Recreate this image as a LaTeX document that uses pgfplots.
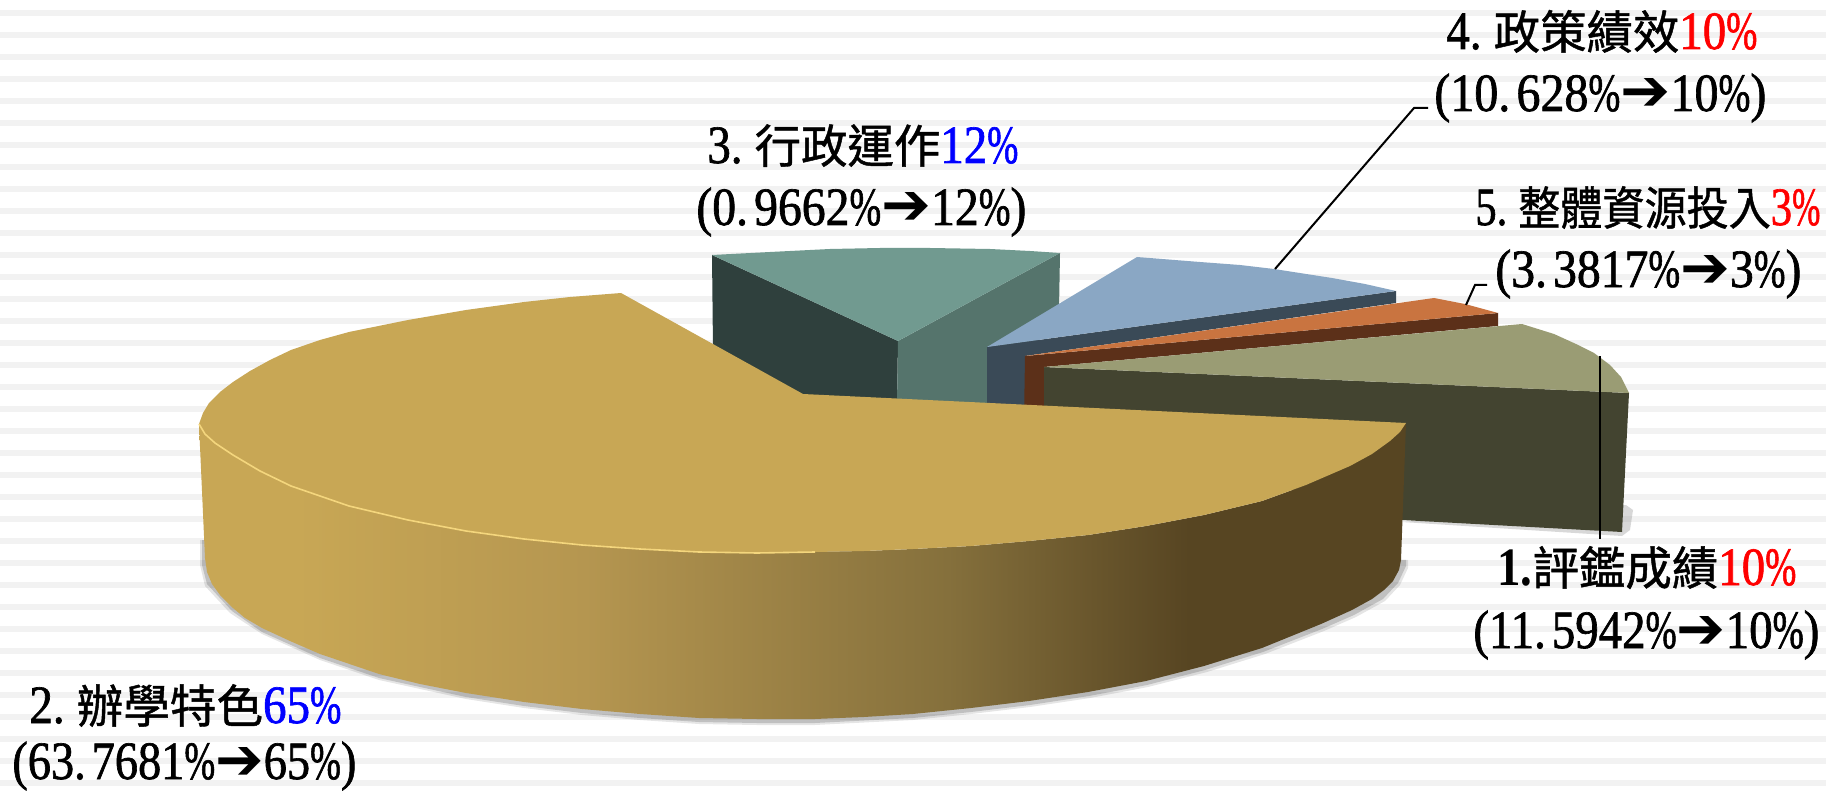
\documentclass[border=0pt]{standalone}
\usepackage{fontspec}
\usepackage{graphicx}
\usepackage{pgfplots}
\pgfplotsset{compat=1.18}
\newfontfamily\lat[FakeStretch=0.86,FakeBold=1.2]{Liberation Serif}
\newfontfamily\latb[FakeStretch=0.86]{Liberation Serif Bold}
\newfontfamily\cjk[FakeBold=1.0]{Noto Sans CJK TC}
\newfontfamily\sym{DejaVu Sans}
\newcommand{\C}[1]{{\fontsize{23}{26}\cjk #1}}
\newcommand{\R}[1]{\textcolor{red}{#1}}
\newcommand{\B}[1]{\textcolor{blue}{#1}}
\newcommand{\pc}{\scalebox{0.8}[1]{\%}}
\newcommand{\dt}{.\hspace{3pt}}
\newcommand{\ar}{{\fontsize{29}{30}\sym ➔}}
\newcommand{\txt}[4]{\node[anchor=base west,inner sep=0pt] at (axis cs:#1,#2) {\resizebox{#3}{\height}{\fontsize{27}{30}\lat #4}};}
\definecolor{gold}{HTML}{C8A755}
\definecolor{goldb}{HTML}{B59650}
\definecolor{goldc}{HTML}{85703C}
\definecolor{goldd}{HTML}{574522}
\definecolor{stripe}{HTML}{F2F2F2}
\pgfdeclarehorizontalshading{goldside}{100bp}{color(0bp)=(gold); color(29bp)=(gold); color(41bp)=(goldb); color(56bp)=(goldc); color(66bp)=(goldd); color(100bp)=(goldd)}
\begin{document}
\begin{tikzpicture}
\begin{axis}[scale only axis,width=913pt,height=395.5pt,xmin=0,xmax=1826,ymin=0,ymax=791,y dir=reverse,hide axis,unbounded coords=jump]
% page
\addplot[fill=white,draw=none] coordinates {(0,0)(1826,0)(1826,791)(0,791)} --cycle;
% background stripes
\addplot[draw=stripe,line width=3pt] coordinates {(0,13)(1826,13)(nan,nan)(0,35)(1826,35)(nan,nan)(0,57)(1826,57)(nan,nan)(0,79)(1826,79)(nan,nan)(0,101)(1826,101)(nan,nan)(0,123)(1826,123)(nan,nan)(0,145)(1826,145)(nan,nan)(0,167)(1826,167)(nan,nan)(0,189)(1826,189)(nan,nan)(0,211)(1826,211)(nan,nan)(0,233)(1826,233)(nan,nan)(0,255)(1826,255)(nan,nan)(0,277)(1826,277)(nan,nan)(0,299)(1826,299)(nan,nan)(0,321)(1826,321)(nan,nan)(0,343)(1826,343)(nan,nan)(0,365)(1826,365)(nan,nan)(0,387)(1826,387)(nan,nan)(0,409)(1826,409)(nan,nan)(0,431)(1826,431)(nan,nan)(0,453)(1826,453)(nan,nan)(0,475)(1826,475)(nan,nan)(0,497)(1826,497)(nan,nan)(0,519)(1826,519)(nan,nan)(0,541)(1826,541)(nan,nan)(0,563)(1826,563)(nan,nan)(0,585)(1826,585)(nan,nan)(0,607)(1826,607)(nan,nan)(0,629)(1826,629)(nan,nan)(0,651)(1826,651)(nan,nan)(0,673)(1826,673)(nan,nan)(0,695)(1826,695)(nan,nan)(0,717)(1826,717)(nan,nan)(0,739)(1826,739)(nan,nan)(0,761)(1826,761)(nan,nan)(0,783)(1826,783)};

% 3 teal slice
\addplot[fill={rgb,255:red,47;green,64;blue,61},draw=none] coordinates {(712,255)(898,341)(897,405)(805,400)(713,350)} --cycle;
\addplot[fill={rgb,255:red,85;green,116;blue,108},draw=none] coordinates {(898,341)(1060,253)(1059,310)(990,405)(897,405)} --cycle;
\addplot[fill={rgb,255:red,113;green,154;blue,144},draw=none] coordinates {(712,255)(770,252)(830,249)(880,248)(930,248)(990,249)(1030,251)(1060,253)(898,341)} --cycle;

% 4 blue slice
\addplot[fill={rgb,255:red,58;green,74;blue,87},draw=none] coordinates {(987,347)(1396,291)(1396,303)(1025,356)(1025,420)(987,420)} --cycle;
\addplot[fill={rgb,255:red,138;green,167;blue,196},draw=none] coordinates {(987,347)(1137,257)(1200,262)(1240,265)(1274,269)(1332,278)(1365,284)(1396,291)} --cycle;

% 5 orange slice
\addplot[fill={rgb,255:red,92;green,48;blue,25},draw=none] coordinates {(1025,356)(1498,313)(1498,326)(1044,367)(1044,420)(1024,420)} --cycle;
\addplot[fill={rgb,255:red,201;green,116;blue,64},draw=none] coordinates {(1025,356)(1434,298)(1465,304)(1498,313)} --cycle;

% 1 olive slice
\addplot[fill=gray,fill opacity=0.3,draw=none] coordinates {(1402,522)(1622,536)(1630,530)(1633,510)(1626,505)} --cycle;
\addplot[fill={rgb,255:red,67;green,68;blue,48},draw=none] coordinates {(1044,367)(1629,393)(1622,532)(1402,520)(1044,420)} --cycle;
\addplot[fill={rgb,255:red,154;green,156;blue,116},draw=none] coordinates {(1044,367)(1522,324)(1554,334)(1576,344)(1594,353)(1610,365)(1621,377)(1629,393)} --cycle;

% shadow under the gold slice
\addplot[fill=black,fill opacity=0.1,draw=none] coordinates {(1408,560)(1408,568)(1400,585)(1385,601)(1356,617)(1324,631)(1265,654)(1207,672)(1148,687)(1090,698)(1030,707)(971,714)(913,720)(815,725)(757,725)(699,724)(640,720)(582,715)(524,708)(466,699)(379,680)(320,660)(262,634)(230,613)(205,586)(200,565)(200,540)} --cycle;
\addplot[fill=black,fill opacity=0.16,draw=none] coordinates {(1406,560)(1406,566)(1398,583)(1383,599)(1354,615)(1322,629)(1263,652)(1205,670)(1147,685)(1089,696)(1030,705)(971,712)(913,718)(815,723)(757,723)(699,722)(640,718)(582,713)(524,706)(466,697)(379,678)(320,658)(262,632)(232,611)(207,584)(202,565)(202,540)} --cycle;

% 2 gold slice side
\addplot[shading=goldside,draw=none] coordinates {(199,424)(205,434)(215,443)(233,455)(260,471)(291,486)(320,496)(349,506)(408,520)(466,531)(524,539)(582,545)(640,549)(699,552)(757,553)(815,552)(864,551)(913,549)(971,546)(1029,541)(1088,535)(1146,526)(1204,515)(1262,501)(1306,485)(1350,466)(1372,454)(1390,441)(1400,432)(1406,423)(1401,560)(1399,570)(1393,581)(1384,590)(1372,599)(1352,610)(1321,624)(1262,648)(1204,666)(1146,681)(1088,692)(1029,701)(971,708)(913,714)(864,717)(815,719)(757,719)(699,718)(640,714)(582,709)(524,702)(466,693)(420,684)(379,674)(320,654)(290,641)(262,628)(245,618)(233,608)(220,595)(212,584)(207,572)(205,558)} --cycle;
% 2 gold slice top
\addplot[fill=gold,draw=none] coordinates {(803,394)(621,293)(570,297)(524,302)(466,310)(408,320)(349,332)(320,340)(291,350)(270,360)(250,371)(233,382)(220,392)(209,403)(203,413)(199,424)(205,434)(215,443)(233,455)(260,471)(291,486)(320,496)(349,506)(408,520)(466,531)(524,539)(582,545)(640,549)(699,552)(757,553)(815,552)(864,551)(913,549)(971,546)(1029,541)(1088,535)(1146,526)(1204,515)(1262,501)(1306,485)(1350,466)(1372,454)(1390,441)(1400,432)(1406,423)} --cycle;
% highlight along the rim
\addplot[draw={rgb,255:red,244;green,214;blue,125},line width=0.8pt] coordinates {(199,424)(205,434)(215,443)(233,455)(260,471)(291,486)(320,496)(349,506)(408,520)(466,531)(524,539)(582,545)(640,549)(699,552)(757,553)(815,552)};

% leader lines
\addplot[draw=black,line width=1pt] coordinates {(1275,269)(1414,108)(1428,108)};
\addplot[draw=black,line width=1pt] coordinates {(1466,305)(1475,285)(1487,285)};
\addplot[draw=black,line width=1pt] coordinates {(1600,356)(1600,539)};

% labels
\txt{1446}{49}{155.5pt}{4.\hspace{6pt}\C{政策績效}\R{10\pc}}
\txt{1434}{111}{166pt}{(10\dt 628\pc\ar 10\pc)}
\txt{707}{163}{155.5pt}{3.\hspace{6pt}\C{行政運作}\B{12\pc}}
\txt{696}{225}{165pt}{(0\dt 9662\pc\ar 12\pc)}
\txt{1475}{225}{172.5pt}{5.\hspace{6pt}\C{整體資源投入}\R{3\pc}}
\txt{1495}{287}{153pt}{(3\dt 3817\pc\ar 3\pc)}
\txt{1497}{585}{149.5pt}{{\latb 1.}\C{評鑑成績}\R{10\pc}}
\txt{1473}{648}{173pt}{(11\dt 5942\pc\ar 10\pc)}
\txt{29}{723}{156pt}{2.\hspace{6pt}\C{辦學特色}\B{65\pc}}
\txt{12}{779}{172pt}{(63\dt 7681\pc\ar 65\pc)}
\end{axis}
\end{tikzpicture}
\end{document}
